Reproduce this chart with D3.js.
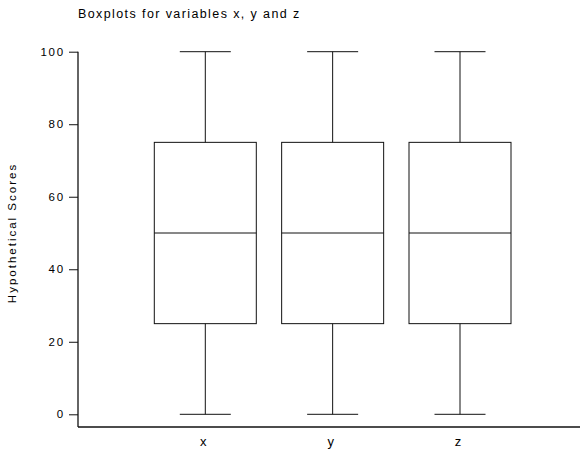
<!DOCTYPE html>
<html>
<head>
<meta charset="utf-8">
<script src="https://cdn.jsdelivr.net/npm/d3@7"></script>
<style>
  html, body { margin: 0; padding: 0; background: #fff; }
  svg { display: block; font-family: "Liberation Sans", Arial, Helvetica, sans-serif; }
</style>
</head>
<body>
<svg id="chart" width="582" height="449"></svg>
<script>
// Five-number summaries per variable
const categories = ["x", "y", "z"];
const minValues    = [0, 0, 0];
const q1Values     = [25, 25, 25];
const medianValues = [50, 50, 50];
const q3Values     = [75, 75, 75];
const maxValues    = [100, 100, 100];
const yTicks = [0, 20, 40, 60, 80, 100];

const titleText = "Boxplots for variables x, y and z";
const yLabel = "Hypothetical Scores";

const svg = d3.select("#chart");

const y = d3.scaleLinear().domain([0, 100]).range([414.3, 51.7]);
const x = d3.scalePoint().domain(categories).range([205.3, 460]);

const axisX0 = 78, axisX1 = 580, axisY = 427;
const boxW = 102, capW = 51;
const stroke = "#111";

// Title
svg.append("text")
  .attr("x", 78).attr("y", 18)
  .attr("font-size", 12.5)
  .attr("letter-spacing", 1.4)
  .attr("fill", "#000")
  .text(titleText);

// Y axis
const yAxis = svg.append("g")
  .attr("transform", `translate(${axisX0},0)`)
  .call(d3.axisLeft(y).tickValues(yTicks).tickSize(9).tickPadding(4).tickSizeOuter(0));
yAxis.select(".domain").remove();
yAxis.selectAll(".tick line").attr("stroke", stroke);
yAxis.selectAll(".tick text")
  .attr("font-size", 11.5)
  .attr("letter-spacing", 1.8)
  .attr("fill", "#000")
  .attr("font-family", "Liberation Sans, Arial, sans-serif");
svg.append("line")
  .attr("x1", axisX0).attr("x2", axisX0)
  .attr("y1", y(100)).attr("y2", axisY)
  .attr("stroke", stroke).attr("stroke-width", 1.3);

// X axis line and category labels
svg.append("line")
  .attr("x1", axisX0).attr("x2", axisX1)
  .attr("y1", axisY).attr("y2", axisY)
  .attr("stroke", stroke).attr("stroke-width", 1.3);
svg.selectAll(".cat")
  .data(categories)
  .join("text")
  .attr("class", "cat")
  .attr("x", d => x(d) - 2)
  .attr("y", 446)
  .attr("text-anchor", "middle")
  .attr("font-size", 13)
  .attr("fill", "#000")
  .text(d => d);

// Y axis title
svg.append("text")
  .attr("transform", `translate(16,${(y(0) + y(100)) / 2}) rotate(-90)`)
  .attr("text-anchor", "middle")
  .attr("font-size", 11.5)
  .attr("letter-spacing", 2)
  .attr("fill", "#000")
  .text(yLabel);

// Boxes
const rows = categories.map((c, i) => ({
  c, min: minValues[i], q1: q1Values[i], med: medianValues[i], q3: q3Values[i], max: maxValues[i]
}));

const g = svg.selectAll(".box").data(rows).join("g").attr("class", "box");

g.append("line") // upper whisker
  .attr("x1", d => x(d.c)).attr("x2", d => x(d.c))
  .attr("y1", d => y(d.max)).attr("y2", d => y(d.q3))
  .attr("stroke", stroke);
g.append("line") // lower whisker
  .attr("x1", d => x(d.c)).attr("x2", d => x(d.c))
  .attr("y1", d => y(d.q1)).attr("y2", d => y(d.min))
  .attr("stroke", stroke);
g.append("line") // top cap
  .attr("x1", d => x(d.c) - capW / 2).attr("x2", d => x(d.c) + capW / 2)
  .attr("y1", d => y(d.max)).attr("y2", d => y(d.max))
  .attr("stroke", stroke);
g.append("line") // bottom cap
  .attr("x1", d => x(d.c) - capW / 2).attr("x2", d => x(d.c) + capW / 2)
  .attr("y1", d => y(d.min)).attr("y2", d => y(d.min))
  .attr("stroke", stroke);
g.append("rect")
  .attr("x", d => x(d.c) - boxW / 2)
  .attr("width", boxW)
  .attr("y", d => y(d.q3))
  .attr("height", d => y(d.q1) - y(d.q3))
  .attr("fill", "none")
  .attr("stroke", stroke);
g.append("line") // median
  .attr("x1", d => x(d.c) - boxW / 2).attr("x2", d => x(d.c) + boxW / 2)
  .attr("y1", d => y(d.med)).attr("y2", d => y(d.med))
  .attr("stroke", stroke);
</script>
</body>
</html>
